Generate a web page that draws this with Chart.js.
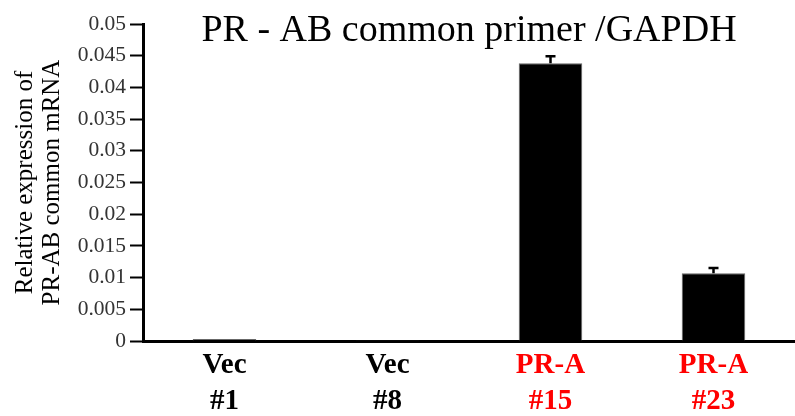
<!DOCTYPE html>
<html>
<head>
<meta charset="utf-8">
<script src="https://cdn.jsdelivr.net/npm/chart.js@4/dist/chart.umd.min.js"></script>
<style>
  body { margin: 0; background: #fff; }
</style>
</head>
<body>
<canvas id="myChart" width="795" height="416"></canvas>
<script>
const groups = [['Vec', '#1'], ['Vec', '#8'], ['PR-A', '#15'], ['PR-A', '#23']];
const labelColors = ['#000000', '#000000', '#ff0000', '#ff0000'];
const expression = [0.0003, 0.0001, 0.0438, 0.0107];
const errors = [0, 0, 0.0011, 0.0008];
const yTicks = [0, 0.005, 0.01, 0.015, 0.02, 0.025, 0.03, 0.035, 0.04, 0.045, 0.05];

const serif = '"Liberation Serif", "Times New Roman", serif';

// error bars drawn upward from each bar top
const errorBars = {
    id: 'errorBars',
    afterDatasetsDraw(chart) {
        const ctx = chart.ctx;
        const meta = chart.getDatasetMeta(0);
        const y = chart.scales.y;
        ctx.save();
        ctx.strokeStyle = '#000';
        ctx.lineWidth = 2.5;
        meta.data.forEach((bar, i) => {
            if (!errors[i]) return;
            const top = y.getPixelForValue(expression[i] + errors[i]);
            const base = y.getPixelForValue(expression[i]);
            ctx.beginPath();
            ctx.moveTo(bar.x, base);
            ctx.lineTo(bar.x, top);
            ctx.moveTo(bar.x - 5, top);
            ctx.lineTo(bar.x + 5, top);
            ctx.stroke();
        });
        ctx.restore();
    }
};

const topTitle = {
    id: 'topTitle',
    afterDraw(chart) {
        const ctx = chart.ctx;
        const area = chart.chartArea;
        ctx.save();
        ctx.font = '38px ' + serif;
        ctx.fillStyle = '#000';
        ctx.textAlign = 'center';
        ctx.textBaseline = 'alphabetic';
        ctx.fillText('PR - AB common primer /GAPDH', (area.left + area.right) / 2, 41);
        ctx.restore();
    }
};

const ctx = document.getElementById('myChart');

new Chart(ctx, {
    type: 'bar',
    data: {
        labels: groups,
        datasets: [{
            data: expression,
            backgroundColor: '#000',
            borderColor: '#666',
            borderWidth: 1,
            barPercentage: 0.39,
            categoryPercentage: 1
        }]
    },
    options: {
        responsive: false,
        animation: false,
        layout: { padding: { top: 24, right: 0, left: 0, bottom: 0 } },
        plugins: {
            legend: { display: false },
            tooltip: { enabled: false }
        },
        scales: {
            x: {
                grid: { display: false },
                border: { display: true, color: '#000', width: 3 },
                ticks: {
                    font: { family: serif, size: 29, weight: 'bold', lineHeight: 1.25 },
                    color: c => labelColors[c.index],
                    padding: -2,
                    maxRotation: 0
                },
                afterFit: s => { s.height = 75; }
            },
            y: {
                min: 0,
                max: 0.05,
                afterBuildTicks: s => { s.ticks = yTicks.map(v => ({ value: v })); },
                grid: { drawOnChartArea: false, drawTicks: true, tickLength: 13, tickWidth: 2, tickColor: '#000' },
                border: { display: true, color: '#000', width: 3 },
                ticks: {
                    autoSkip: false,
                    font: { family: serif, size: 21.5 },
                    color: '#333',
                    padding: 4,
                    callback: v => String(Number(v.toFixed(3)))
                },
                title: {
                    display: true,
                    text: ['Relative expression of', 'PR-AB common mRNA'],
                    font: { family: serif, size: 25, lineHeight: 1.08 },
                    color: '#000',
                    padding: { top: 12, bottom: 4 }
                },
                afterFit: s => { s.width = 143; }
            }
        }
    },
    plugins: [errorBars, topTitle]
});
</script>
</body>
</html>
